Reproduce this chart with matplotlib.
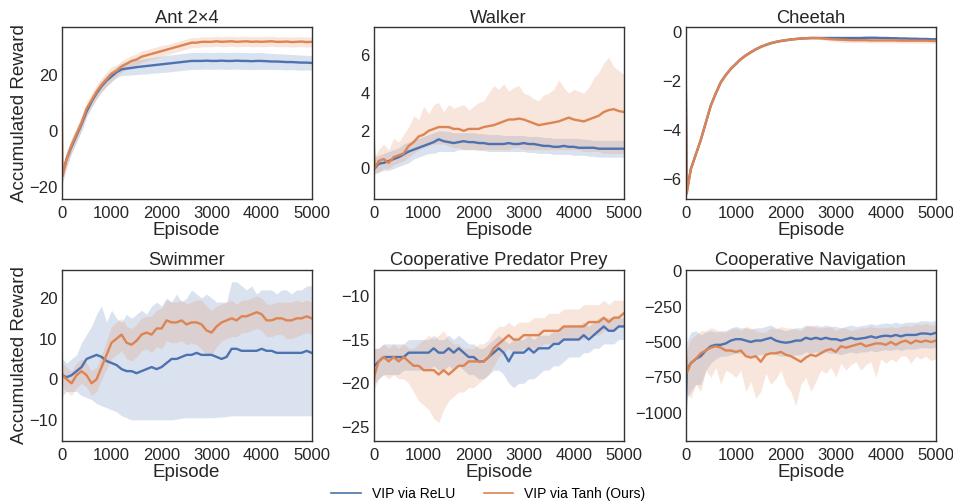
import matplotlib
matplotlib.use("Agg")
import matplotlib.pyplot as plt
import numpy as np

# episode grid (first two points capture the initial spike)
episodes = [0, 20] + list(range(100, 5001, 100))

titles = ["Ant 2×4", "Walker", "Cheetah", "Swimmer", "Cooperative Predator Prey", "Cooperative Navigation"]
labels = ["VIP via ReLU", "VIP via Tanh (Ours)"]

# ---- Ant 2x4 ----
ant_relu = [-12, -15,
            -10, -5.5, -1.5, 2.5, 7, 10.5, 13.5, 16, 18, 19.5,
            21, 22, 22.3, 22.5, 22.8, 23, 23.2, 23.4, 23.6, 23.8,
            24, 24.2, 24.4, 24.6, 24.8, 25, 25, 25, 25.1, 25,
            25, 25.1, 25, 25, 25.1, 25, 25, 24.9, 25, 25,
            24.9, 24.8, 24.8, 24.7, 24.6, 24.6, 24.5, 24.4, 24.4, 24.3]
ant_relu_sd = [4, 3,
               3, 2.5, 2.5, 2.5, 2, 2, 2, 2, 2, 2,
               2, 2.2, 2.4, 2.5, 2.6, 2.7, 2.8, 2.8, 2.9, 2.9,
               3, 3, 3, 3, 3, 3, 3, 3, 3, 3,
               3, 3, 3, 3, 3, 3, 3, 3, 3, 3,
               2.9, 2.9, 2.8, 2.8, 2.8, 2.7, 2.7, 2.7, 2.6, 2.6]
ant_tanh = [20, -16,
            -10, -5, -1, 3, 8, 11, 14, 16.5, 18.5, 20.5,
            21.5, 23, 24, 25, 25.5, 26.5, 27, 27.5, 28, 28.5,
            29, 29.5, 30, 30.5, 31, 31.5, 31.5, 31.8, 31.8, 31.8,
            32, 31.8, 31.9, 32, 31.8, 31.9, 32, 31.8, 31.9, 31.8,
            31.9, 32, 31.8, 31.8, 31.9, 31.7, 31.8, 31.9, 31.7, 31.8]
ant_tanh_sd = [1, 2.5,
               2.5, 2.5, 2.5, 2.5, 2.5, 2.5, 2.5, 2.5, 2.5, 2.5,
               2, 2, 2, 2, 2, 2, 2, 2, 2, 2,
               1.8, 1.8, 1.8, 1.8, 1.8, 1.8, 1.8, 1.8, 1.8, 1.8,
               1.8, 1.8, 1.8, 1.8, 1.8, 1.8, 1.8, 1.8, 1.8, 1.8,
               1.8, 1.8, 1.8, 1.8, 1.8, 1.8, 1.8, 1.8, 1.8, 1.8]

# ---- Walker ----
walker_relu = [0.0, 0.0,
               0.25, 0.3, 0.4, 0.5, 0.6, 0.75, 0.9, 1.0, 1.1, 1.2,
               1.3, 1.4, 1.55, 1.45, 1.4, 1.35, 1.4, 1.45, 1.4, 1.4,
               1.35, 1.35, 1.3, 1.3, 1.3, 1.3, 1.35, 1.3, 1.3, 1.35,
               1.3, 1.3, 1.25, 1.2, 1.2, 1.15, 1.15, 1.2, 1.15, 1.15,
               1.1, 1.1, 1.1, 1.1, 1.05, 1.05, 1.05, 1.05, 1.05, 1.05]
walker_relu_lo = [-0.3, -0.3,
                  -0.2, -0.1, -0.1, 0.0, 0.1, 0.2, 0.3, 0.5, 0.6, 0.7,
                  0.8, 0.8, 0.9, 0.9, 0.9, 0.9, 1.0, 1.0, 1.0, 1.0,
                  0.95, 0.95, 0.9, 0.9, 0.9, 0.9, 0.9, 0.9, 0.9, 0.9,
                  0.85, 0.85, 0.8, 0.8, 0.8, 0.75, 0.75, 0.75, 0.75, 0.7,
                  0.7, 0.7, 0.65, 0.65, 0.6, 0.6, 0.6, 0.6, 0.6, 0.6]
walker_relu_hi = [0.5, 0.6,
                  0.7, 0.8, 0.9, 1.0, 1.1, 1.3, 1.4, 1.5, 1.6, 1.7,
                  1.8, 1.9, 2.0, 2.0, 1.95, 1.9, 1.9, 1.9, 1.9, 1.9,
                  1.85, 1.85, 1.8, 1.8, 1.8, 1.75, 1.75, 1.75, 1.75, 1.75,
                  1.7, 1.7, 1.7, 1.65, 1.65, 1.6, 1.6, 1.6, 1.6, 1.6,
                  1.6, 1.55, 1.55, 1.5, 1.5, 1.5, 1.5, 1.5, 1.5, 1.5]
walker_tanh = [1.7, 0.0,
               0.4, 0.5, 0.3, 0.6, 0.7, 0.8, 1.2, 1.4, 1.7, 1.8,
               2.0, 2.1, 2.2, 2.2, 2.2, 2.1, 2.1, 2.0, 2.1, 2.1,
               2.1, 2.2, 2.25, 2.3, 2.4, 2.5, 2.6, 2.6, 2.65, 2.6,
               2.5, 2.4, 2.3, 2.35, 2.4, 2.45, 2.5, 2.6, 2.7, 2.6,
               2.55, 2.5, 2.6, 2.7, 2.8, 3.0, 3.1, 3.15, 3.05, 3.0]
walker_tanh_lo = [0.0, -0.2,
                  -0.2, 0.0, 0.0, 0.2, 0.3, 0.4, 0.6, 0.8, 1.0, 1.1,
                  1.2, 1.3, 1.3, 1.3, 1.2, 1.1, 1.1, 1.0, 1.0, 1.0,
                  1.0, 1.0, 1.0, 1.0, 1.0, 1.0, 1.0, 1.1, 1.1, 1.0,
                  1.0, 1.0, 1.0, 1.0, 1.0, 1.0, 1.0, 1.0, 1.0, 1.0,
                  1.0, 0.9, 0.9, 0.9, 0.9, 0.8, 0.8, 0.8, 0.8, 0.8]
walker_tanh_hi = [1.8, 0.6,
                  1.0, 1.3, 1.0, 1.6, 1.4, 1.8, 2.2, 2.8, 2.6, 3.3,
                  2.9, 3.4, 3.5, 3.0, 3.4, 3.2, 3.3, 3.4, 3.1, 3.3,
                  3.5, 3.6, 4.0, 4.4, 4.2, 4.5, 4.1, 4.3, 4.4, 4.0,
                  3.9, 3.7, 3.6, 3.9, 4.0, 4.2, 4.7, 4.3, 4.0, 4.2,
                  4.1, 4.0, 4.3, 4.8, 5.1, 5.6, 5.9, 5.4, 5.2, 5.0]

# ---- Cheetah ----
cheetah_relu = [-2.0, -6.5,
                -5.6, -5.0, -4.4, -3.7, -3.0, -2.5, -2.05, -1.75, -1.5, -1.3,
                -1.1, -0.95, -0.82, -0.7, -0.6, -0.52, -0.45, -0.4, -0.36, -0.33,
                -0.3, -0.28, -0.26, -0.25, -0.24, -0.24, -0.24, -0.24, -0.24, -0.24,
                -0.24, -0.24, -0.24, -0.24, -0.24, -0.23, -0.23, -0.23, -0.24, -0.24,
                -0.25, -0.25, -0.26, -0.26, -0.27, -0.27, -0.28, -0.28, -0.29, -0.29]
cheetah_relu_sd = [0.05, 0.08] + [0.03] * 50
cheetah_tanh = [-2.0, -6.6,
                -5.6, -5.0, -4.4, -3.7, -3.0, -2.5, -2.05, -1.75, -1.5, -1.3,
                -1.1, -0.95, -0.82, -0.7, -0.6, -0.52, -0.45, -0.4, -0.36, -0.33,
                -0.3, -0.28, -0.26, -0.25, -0.24, -0.24, -0.25, -0.27, -0.29, -0.3,
                -0.31, -0.32, -0.33, -0.33, -0.33, -0.33, -0.34, -0.34, -0.34, -0.34,
                -0.34, -0.34, -0.35, -0.35, -0.35, -0.35, -0.35, -0.35, -0.36, -0.36]
cheetah_tanh_sd = [0.05, 0.1,
                   0.05, 0.05, 0.05, 0.05, 0.05, 0.05, 0.05, 0.05, 0.05, 0.05,
                   0.05, 0.05, 0.05, 0.05, 0.05, 0.05, 0.05, 0.05, 0.05, 0.05,
                   0.05, 0.05, 0.05, 0.05, 0.05, 0.05, 0.06, 0.07, 0.08, 0.09,
                   0.1, 0.1, 0.1, 0.1, 0.1, 0.1, 0.1, 0.1, 0.1, 0.1,
                   0.1, 0.1, 0.1, 0.1, 0.1, 0.1, 0.1, 0.1, 0.1, 0.1]

# ---- Swimmer ----
swimmer_relu = [1, 1,
                0.5, 1, 2, 3, 5, 5.5, 6, 5.5, 4.5, 4,
                3.5, 2.5, 2, 2, 1.5, 2, 2.5, 3, 2.5, 3,
                4, 5, 5, 5.5, 6, 6, 6.5, 6, 6, 6,
                5.5, 5, 5.5, 7.5, 7.5, 7, 7, 7, 7, 7.5,
                7, 7, 6.5, 6.5, 6.5, 6.5, 6.5, 6.5, 7, 6.5]
swimmer_relu_lo = [-4, -4,
                   -3, -3, -3, -4, -4.5, -5, -6, -6.5, -7, -7.5,
                   -8, -9, -9.5, -10, -10, -10, -10, -10, -10, -10,
                   -10, -10, -9.8, -9.6, -9.5, -9.5, -9.5, -9.5, -9.5, -9.5,
                   -9.4, -9.3, -9.2, -9, -9, -9, -9, -9, -9, -9,
                   -9, -9, -9, -9, -9, -9, -9, -9, -9, -9]
swimmer_relu_hi = [5, 5,
                   4, 5, 6, 9, 11, 13, 16, 18, 14, 17,
                   15, 14, 16, 15, 16, 17, 16, 18, 19, 18,
                   20, 19, 21, 19, 20, 22, 21, 20, 21, 20,
                   19, 19, 19, 24, 24, 23, 22, 23, 21, 22,
                   22, 22, 21, 22, 22, 21, 22, 22, 23, 23]
swimmer_tanh = [2, 1,
                0, -1, 1, 2, 1, -1, 0, 3, 6, 9,
                10, 11, 9, 8.5, 9.5, 11, 11.5, 11, 12.5, 12.5,
                14.5, 14, 14, 14.5, 13.5, 14, 14, 13.5, 12, 11.5,
                13, 14, 14.5, 15, 14.5, 15.5, 15.5, 16, 16.5, 16,
                14.5, 14.5, 15, 15, 14.5, 14.5, 15, 15, 15.5, 15]
swimmer_tanh_sd = [3, 3,
                   3, 3, 3, 3, 3, 3, 3, 3, 3.5, 4,
                   4, 4, 4, 4, 4, 4, 4, 4.5, 4.5, 5,
                   5, 5, 5, 5, 5, 5, 5.5, 6, 6, 5.5,
                   5, 4.5, 4.5, 4.5, 4, 4, 4, 4, 4, 4,
                   4, 4, 4, 4, 4.5, 4.5, 4.5, 4, 4, 4]

# ---- Cooperative Predator Prey ----
pp_relu = [-18, -18,
           -17.5, -17, -17, -17, -17, -17, -16.5, -16.5, -16.5, -16.5,
           -16.5, -16, -16.5, -16.5, -16, -16.5, -16, -16.5, -17, -17,
           -17.5, -17.5, -17, -16.5, -16, -16.5, -17.5, -16.5, -16.5, -16.5,
           -16, -16.5, -16, -16, -16, -15.5, -15.5, -15, -15, -15,
           -15, -14.5, -15, -14.5, -14, -13.5, -14, -14, -13.5, -13.5]
pp_relu_lo = [-20, -20,
              -19.5, -19, -19, -19, -19, -18.5, -18.5, -18.5, -18.5, -18.5,
              -18.5, -18, -18.5, -18.5, -18, -18.5, -18, -18.5, -19, -19,
              -19.5, -19.5, -19, -18.5, -18.5, -19, -20, -20.5, -20, -20,
              -19.5, -19.5, -19, -18.5, -18.5, -18, -18, -17.5, -17, -17,
              -17, -16.5, -16.5, -16, -16, -15.5, -15.5, -15.5, -15, -15]
pp_relu_hi = [-16, -16,
              -16, -15.5, -15.5, -15.5, -15.5, -15.5, -15, -15, -15, -15,
              -15, -14.5, -15, -15, -14.5, -15, -14.5, -15, -15.5, -15.5,
              -16, -16, -15.5, -15, -14.5, -15, -15.5, -15, -15, -15,
              -14.5, -15, -14.5, -14.5, -14.5, -14, -14, -13.5, -13.5, -13.5,
              -13.5, -13, -13.5, -13, -12.5, -12.5, -12.5, -12.5, -12.5, -12.5]
pp_tanh = [-20, -19,
           -17.5, -17, -17.5, -17, -17.5, -17, -17.5, -18, -18, -18.5,
           -18.5, -18.5, -19, -18.5, -19, -18.5, -18, -18, -17.5, -17.5,
           -17.5, -17.5, -17, -16, -15.5, -15, -14.5, -15, -15, -14.5,
           -14.5, -14.5, -14.5, -14, -14, -14, -14, -13.5, -13.5, -13.5,
           -13.5, -13.5, -13, -13, -13, -12.5, -13, -12.5, -12.5, -12]
pp_tanh_lo = [-21, -20.5,
              -19.5, -19, -19.5, -19, -19.5, -19.5, -20, -21, -22, -22.5,
              -23, -24, -24.5, -23, -22, -21.5, -21, -21, -20.5, -20.5,
              -20, -19.5, -19, -18, -17, -16.5, -16, -16.5, -16.5, -16,
              -16, -16, -16, -15.5, -15.5, -15.5, -15.5, -15, -15, -15,
              -15, -15, -14.5, -14.5, -14.5, -14, -14, -14, -13.5, -13.5]
pp_tanh_hi = [-16, -16,
              -16, -15.5, -16, -15.5, -16, -15.5, -16, -16, -15.5, -15,
              -14.5, -15, -14.5, -14, -15, -15.5, -15.5, -16, -16, -16,
              -15.5, -15.5, -15, -14, -13.5, -13.5, -13, -13.5, -13, -13,
              -13, -12.5, -12.5, -12.5, -12, -12, -12, -11.5, -11.5, -11.5,
              -11.5, -11, -11, -11, -11, -10.5, -11, -10.5, -10.5, -10.5]

# ---- Cooperative Navigation ----
nav_relu = [-1000, -700,
            -650, -620, -600, -560, -530, -520, -520, -510, -490, -480,
            -480, -490, -500, -490, -490, -480, -470, -490, -500, -505,
            -500, -490, -490, -470, -480, -470, -480, -470, -480, -480,
            -490, -480, -470, -480, -475, -470, -460, -470, -460, -455,
            -460, -450, -460, -450, -450, -450, -440, -440, -445, -435]
nav_relu_lo = [-1050, -900,
               -850, -800, -800, -700, -650, -620, -600, -600, -590, -580,
               -580, -590, -600, -590, -590, -580, -570, -590, -600, -600,
               -600, -590, -590, -570, -580, -570, -580, -570, -580, -580,
               -590, -580, -570, -580, -570, -570, -560, -570, -560, -555,
               -560, -550, -560, -550, -550, -550, -540, -540, -545, -535]
nav_relu_hi = [-950, -500,
               -430, -420, -450, -430, -420, -430, -420, -420, -400, -390,
               -400, -400, -410, -400, -400, -390, -380, -400, -410, -420,
               -410, -400, -400, -380, -390, -380, -390, -380, -390, -390,
               -400, -390, -380, -390, -385, -380, -370, -380, -370, -365,
               -370, -360, -370, -360, -360, -360, -350, -350, -355, -345]
nav_tanh = [-550, -720,
            -650, -620, -580, -560, -540, -530, -540, -560, -560, -570,
            -560, -600, -610, -600, -640, -590, -580, -580, -570, -590,
            -600, -620, -640, -610, -590, -600, -580, -560, -550, -570,
            -530, -540, -530, -520, -510, -530, -520, -510, -510, -520,
            -500, -520, -500, -490, -510, -490, -500, -490, -500, -490]
nav_tanh_lo = [-600, -850,
               -900, -800, -850, -700, -750, -680, -800, -700, -720, -750,
               -700, -850, -780, -900, -850, -720, -800, -760, -700, -800,
               -850, -950, -800, -750, -850, -780, -700, -720, -680, -750,
               -650, -700, -660, -640, -700, -660, -640, -750, -620, -650,
               -620, -640, -600, -600, -650, -600, -620, -600, -630, -620]
nav_tanh_hi = [-500, -550,
               -480, -450, -420, -420, -400, -410, -430, -430, -410, -400,
               -420, -390, -400, -420, -430, -430, -400, -410, -390, -400,
               -400, -410, -420, -390, -380, -400, -400, -400, -390, -420,
               -400, -400, -420, -410, -400, -400, -390, -400, -400, -400,
               -390, -400, -390, -380, -390, -370, -380, -370, -380, -380]


def band(mean, sd):
    m = np.array(mean, dtype=float)
    s = np.array(sd, dtype=float)
    return m - s, m + s


panels = [
    ([ant_relu, *band(ant_relu, ant_relu_sd)], [ant_tanh, *band(ant_tanh, ant_tanh_sd)]),
    ([walker_relu, walker_relu_lo, walker_relu_hi], [walker_tanh, walker_tanh_lo, walker_tanh_hi]),
    ([cheetah_relu, *band(cheetah_relu, cheetah_relu_sd)], [cheetah_tanh, *band(cheetah_tanh, cheetah_tanh_sd)]),
    ([swimmer_relu, swimmer_relu_lo, swimmer_relu_hi], [swimmer_tanh, *band(swimmer_tanh, swimmer_tanh_sd)]),
    ([pp_relu, pp_relu_lo, pp_relu_hi], [pp_tanh, pp_tanh_lo, pp_tanh_hi]),
    ([nav_relu, nav_relu_lo, nav_relu_hi], [nav_tanh, nav_tanh_lo, nav_tanh_hi]),
]

ylims = [(-24, 37), (-1.6, 7.5), (-6.8, 0.2), (-15.2, 27), (-26.6, -7), (-1200, 12)]
yticks = [[-20, 0, 20], [0, 2, 4, 6], [-6, -4, -2, 0], [-10, 0, 10, 20],
          [-25, -20, -15, -10], [-1000, -750, -500, -250, 0]]

plt.rcParams["font.family"] = ["Liberation Sans", "DejaVu Sans"]
plt.rcParams["axes.edgecolor"] = "#333333"
plt.rcParams["axes.linewidth"] = 1.0
plt.rcParams["xtick.color"] = "#262626"
plt.rcParams["ytick.color"] = "#262626"

colors = ["#4C72B0", "#DD8452"]

fig, axes = plt.subplots(2, 3, figsize=(9.54, 5.04), dpi=100)
fig.subplots_adjust(left=0.0645, right=0.981, top=0.946, bottom=0.125, wspace=0.248, hspace=0.414)

x = np.array(episodes)
for i, ax in enumerate(axes.flat):
    for j, (mean, lo, hi) in enumerate(panels[i]):
        ax.fill_between(x, lo, hi, color=colors[j], alpha=0.2, linewidth=0)
        ax.plot(x, mean, color=colors[j], linewidth=1.7)
    ax.set_title(titles[i], fontsize=13.2, color="#262626", pad=3)
    ax.set_xlim(0, 5000)
    ax.set_xticks([0, 1000, 2000, 3000, 4000, 5000])
    ax.set_ylim(*ylims[i])
    ax.set_yticks(yticks[i])
    ax.tick_params(axis="x", labelsize=12, length=0, pad=5)
    ax.tick_params(axis="y", labelsize=12, length=0, pad=3)
    ax.set_xlabel("Episode", fontsize=13.5, color="#262626", labelpad=1)
    if i % 3 == 0:
        ax.set_ylabel("Accumulated Reward", fontsize=13.5, color="#262626", labelpad=1)

handles = [plt.Line2D([], [], color=c, linewidth=1.2) for c in colors]
fig.legend(handles, labels, loc="lower center", ncol=2, frameon=False,
           fontsize=10, bbox_to_anchor=(0.512, -0.018), columnspacing=2.1,
           handlelength=2.1, handletextpad=0.8)

fig.savefig("out.png", dpi=100)
